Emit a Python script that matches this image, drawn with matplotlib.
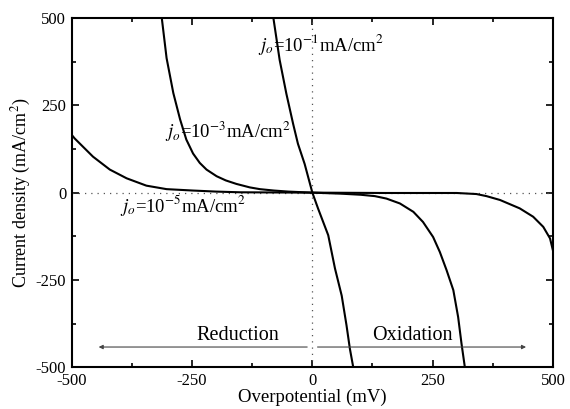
import matplotlib
matplotlib.use('Agg')
import matplotlib.pyplot as plt
from matplotlib.ticker import MultipleLocator

plt.rcParams['font.family'] = ['Liberation Serif', 'DejaVu Serif']
plt.rcParams['mathtext.fontset'] = 'stix'
plt.rcParams['axes.unicode_minus'] = False

# values (overpotential in mV, current density in mA/cm2)
eta_1 = [-81, -68, -54, -40, -30, -16, 0, 12, 33, 47, 61, 71, 78, 85]
j_1 = [500, 380, 283, 197, 140, 82, 0, -46, -122, -217, -295, -380, -447, -500]

eta_3 = [-313, -303, -289, -275, -262, -248, -234, -220, -199, -180, -158, -130,
         -109, -80, -50, 0, 60, 100, 130, 154, 182, 210, 230, 251, 265, 279,
         293, 303, 310, 317]
j_3 = [500, 385, 285, 210, 152, 112, 85, 66, 47, 35, 25, 15, 10, 6, 3, 0, -3,
       -6, -10, -17, -31, -55, -84, -127, -170, -222, -279, -356, -432, -500]

eta_5 = [-500, -494, -456, -421, -386, -345, -303, -248, -200, -150, 0, 150,
         300, 341, 362, 390, 431, 459, 480, 494, 500]
j_5 = [165, 155, 103, 66, 41, 20, 10, 6, 3, 1, 0, -1, -1, -4, -10, -21, -45,
       -69, -98, -131, -165]

curve_labels = [r'$j_o$=10$^{-1}$mA/cm$^2$',
                r'$j_o$=10$^{-3}$mA/cm$^2$',
                r'$j_o$=10$^{-5}$mA/cm$^2$']
label_pos = [(-113, 423), (-307, 174), (-400, -36)]

fig = plt.figure(figsize=(5.7, 4.09), dpi=100)
ax = fig.add_axes([0.126, 0.102, 0.844, 0.854])

ax.axhline(0, color='#555555', lw=0.9, ls=(0, (1, 4)))
ax.axvline(0, color='#555555', lw=0.9, ls=(0, (1, 4)))

for eta, j in [(eta_1, j_1), (eta_3, j_3), (eta_5, j_5)]:
    ax.plot(eta, j, color='black', lw=1.5, solid_joinstyle='round')

for txt, (x, y) in zip(curve_labels, label_pos):
    ax.text(x, y, txt, fontsize=13.5, va='center', ha='left')

# reduction / oxidation arrows
arrow_kw = dict(arrowstyle='-|>', color='#444444', lw=0.8, mutation_scale=6)
ax.annotate('', xy=(-450, -442), xytext=(-5, -442), arrowprops=arrow_kw)
ax.annotate('', xy=(450, -442), xytext=(5, -442), arrowprops=arrow_kw)
ax.text(-154, -408, 'Reduction', fontsize=14.5, ha='center', va='center')
ax.text(208, -408, 'Oxidation', fontsize=14.5, ha='center', va='center')

ax.set_xlim(-500, 500)
ax.set_ylim(-500, 500)
ax.xaxis.set_major_locator(MultipleLocator(250))
ax.xaxis.set_minor_locator(MultipleLocator(125))
ax.yaxis.set_major_locator(MultipleLocator(250))
ax.yaxis.set_minor_locator(MultipleLocator(125))
ax.tick_params(which='both', direction='in', top=True, right=True,
               width=1.2, labelsize=12)
ax.tick_params(which='major', length=5, pad=4)
ax.tick_params(which='minor', length=3)
for sp in ax.spines.values():
    sp.set_linewidth(1.5)

ax.set_xlabel('Overpotential (mV)', fontsize=13.5, labelpad=0)
ax.set_ylabel('Current density (mA/cm$^2$)', fontsize=13, labelpad=2)

fig.savefig('out.png', dpi=100)
